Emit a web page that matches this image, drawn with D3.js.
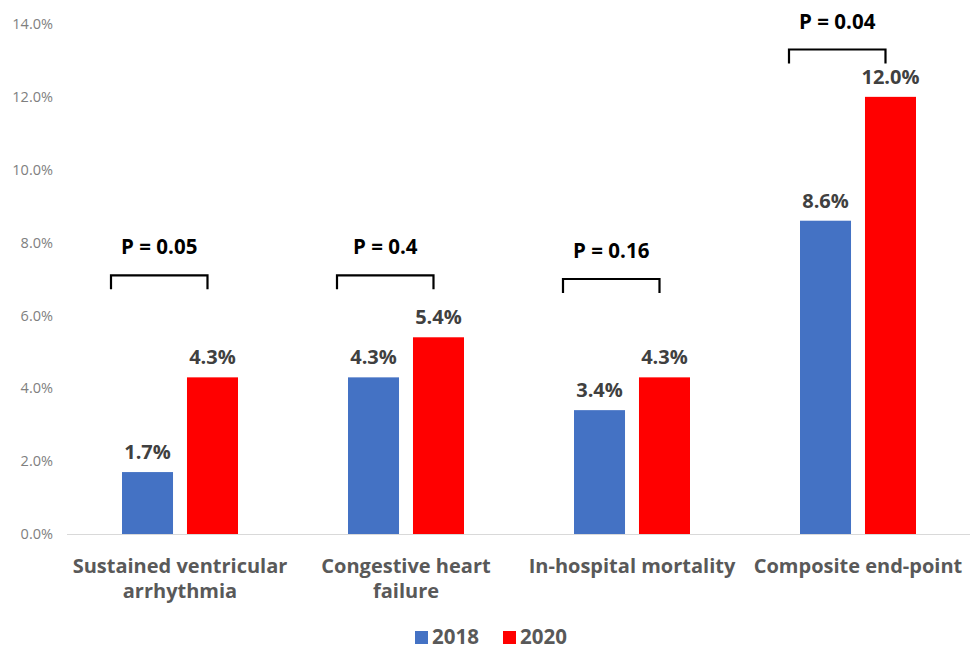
<!DOCTYPE html>
<html><head><meta charset="utf-8">
<script src="https://cdn.jsdelivr.net/npm/d3@7"></script>
<style>body{margin:0;background:#fff}svg{display:block}</style>
</head><body>
<svg id="c" width="979" height="649"></svg>
<script>
const categories = [["Sustained ventricular","arrhythmia"],["Congestive heart","failure"],["In-hospital mortality"],["Composite end-point"]];
const seriesNames = ["2018","2020"];
const values2018 = [1.7, 4.3, 3.4, 8.6];
const values2020 = [4.3, 5.4, 4.3, 12.0];
const pLabels = ["P = 0.05","P = 0.4","P = 0.16","P = 0.04"];
const bracketLevels = [7.1, 7.1, 7.0, 13.3];
const yTicks = [0,2,4,6,8,10,12,14];
const colors = ["#4472C4","#FF0000"];

const svg = d3.select("#c");
const font = "'Open Sans', sans-serif";
const y = d3.scaleLinear().domain([0,14]).range([534,24]);
const x0 = d3.scaleBand().domain(d3.range(categories.length)).range([67,971]);
const x1 = d3.scaleBand().domain(seriesNames).range([55,171]).paddingInner(0.215);

// y axis labels
const yAxis = d3.axisLeft(y).tickValues(yTicks).tickSize(0).tickPadding(0).tickFormat(d=>d3.format(".1f")(d)+"%");
const ga = svg.append("g").attr("transform","translate(53,0)").call(yAxis);
ga.select(".domain").remove();
ga.selectAll("text").attr("font-family",font).attr("font-size",14.5).attr("fill","#7f7f7f");

// baseline
svg.append("line").attr("x1",67).attr("x2",970).attr("y1",y(0)+0.5).attr("y2",y(0)+0.5)
  .attr("stroke","#d9d9d9").attr("stroke-width",1.2);

const data = categories.map((c,i)=>({i, vals:[values2018[i], values2020[i]]}));
const groups = svg.append("g").selectAll("g").data(data).join("g")
  .attr("transform",d=>`translate(${x0(d.i)},0)`);

groups.selectAll("rect").data(d=>d.vals.map((v,k)=>({v,k}))).join("rect")
  .attr("x",d=>x1(seriesNames[d.k])).attr("width",x1.bandwidth())
  .attr("y",d=>y(d.v)).attr("height",d=>y(0)-y(d.v))
  .attr("fill",d=>colors[d.k]);

groups.selectAll("text.val").data(d=>d.vals.map((v,k)=>({v,k}))).join("text")
  .attr("class","val")
  .attr("x",d=>x1(seriesNames[d.k])+x1.bandwidth()/2)
  .attr("y",d=>y(d.v)-13)
  .attr("text-anchor","middle").attr("font-family",font).attr("font-weight","bold")
  .attr("font-size",20).attr("fill","#404040")
  .text(d=>d3.format(".1f")(d.v)+"%");

// brackets
groups.each(function(d){
  const g = d3.select(this);
  const x1s = x1(seriesNames[0]) - 11;
  const x2s = x1(seriesNames[1]) + x1.bandwidth()/2 - 5;
  const yt = y(bracketLevels[d.i]);
  g.append("path").attr("d",`M${x1s},${yt+14}V${yt}H${x2s}V${yt+14}`)
    .attr("fill","none").attr("stroke","#000").attr("stroke-width",2.2);
  g.append("text").attr("x",(x1s+x2s)/2).attr("y",yt-21)
    .attr("text-anchor","middle").attr("font-family",font).attr("font-weight","bold")
    .attr("font-size",20.5).attr("fill","#000").text(pLabels[d.i]);
});

// category labels
groups.append("text").attr("text-anchor","middle").attr("font-family",font)
  .attr("font-weight","bold").attr("font-size",20).attr("fill","#595959")
  .each(function(d){
    d3.select(this).selectAll("tspan").data(categories[d.i]).join("tspan")
      .attr("x",x0.bandwidth()/2).attr("y",(t,j)=>573+j*25).text(t=>t);
  });

// legend
const leg = svg.append("g");
const legX = [415, 503];
seriesNames.forEach((s,k)=>{
  leg.append("rect").attr("x",legX[k]).attr("y",631).attr("width",13).attr("height",13).attr("fill",colors[k]);
  leg.append("text").attr("x",legX[k]+17).attr("y",644).attr("font-family",font).attr("font-weight","bold")
    .attr("font-size",20.5).attr("fill","#595959").text(s);
});
</script>
</body></html>
